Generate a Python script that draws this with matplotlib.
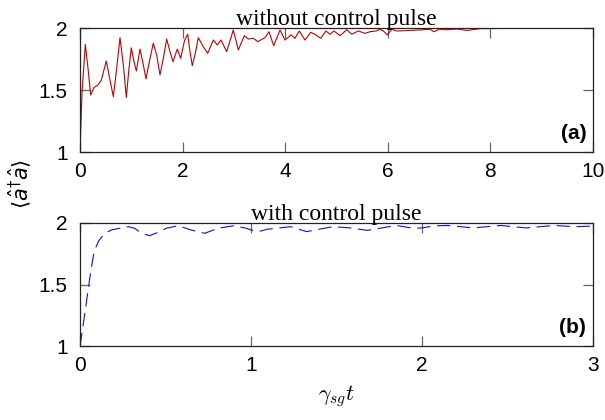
import matplotlib.pyplot as plt

# (a) without control pulse
t_a = [0, 0.04, 0.104, 0.156, 0.208, 0.273, 0.351, 0.416, 0.513, 0.578, 0.65, 0.715,
       0.78, 0.845, 0.903, 0.949, 1.0, 1.053, 1.098, 1.17, 1.222, 1.287, 1.351, 1.429,
       1.495, 1.559, 1.624, 1.69, 1.754, 1.813, 1.897, 1.962, 2.04, 2.10, 2.144, 2.189,
       2.255, 2.306, 2.404, 2.489, 2.599, 2.677, 2.749, 2.859, 2.988, 3.086, 3.203,
       3.281, 3.378, 3.464, 3.606, 3.684, 3.776, 3.899, 3.996, 4.113, 4.19, 4.275,
       4.386, 4.497, 4.581, 4.692, 4.795, 4.873, 4.951, 5.068, 5.199, 5.296, 5.425,
       5.556, 5.653, 5.77, 5.848, 5.913, 5.99, 6.076, 6.173, 6.433, 6.69, 6.82, 6.90,
       7.004, 7.15, 7.35, 7.54, 7.80, 8.1, 8.5, 9.0, 9.5, 10.0]
n_a = [1.0, 1.486, 1.868, 1.675, 1.46, 1.52, 1.54, 1.58, 1.734, 1.594, 1.446, 1.675,
       1.922, 1.70, 1.44, 1.65, 1.84, 1.728, 1.653, 1.83, 1.728, 1.589, 1.728, 1.877,
       1.782, 1.621, 1.755, 1.911, 1.809, 1.728, 1.83, 1.755, 1.903, 1.949, 1.809, 1.696,
       1.809, 1.922, 1.849, 1.796, 1.903, 1.863, 1.903, 1.809, 1.984, 1.823, 1.938,
       1.911, 1.917, 1.89, 1.922, 1.97, 1.857, 1.984, 1.903, 1.944, 1.917, 1.976,
       1.903, 1.965, 1.949, 1.917, 1.976, 1.949, 1.976, 1.938, 1.986, 1.949, 1.976,
       1.957, 1.97, 1.976, 1.989, 1.976, 1.944, 1.989, 1.976, 1.98, 1.986, 1.99, 1.97,
       1.99, 1.986, 1.992, 1.98, 1.995, 1.996, 1.998, 1.999, 2.0, 2.0]

# (b) with control pulse
t_b = [0, 0.027, 0.057, 0.082, 0.109, 0.144, 0.183, 0.232, 0.281, 0.32, 0.359, 0.407,
       0.456, 0.505, 0.573, 0.651, 0.729, 0.807, 0.90, 0.973, 1.002, 1.041, 1.095,
       1.23, 1.325, 1.40, 1.48, 1.58, 1.68, 1.85, 1.95, 2.0, 2.07, 2.15, 2.30, 2.46,
       2.61, 2.77, 2.90, 3.0]
n_b = [1.0, 1.252, 1.55, 1.767, 1.854, 1.916, 1.943, 1.957, 1.97, 1.957, 1.916, 1.897,
       1.924, 1.957, 1.978, 1.943, 1.916, 1.957, 1.978, 1.957, 1.943, 1.929, 1.949,
       1.97, 1.93, 1.95, 1.97, 1.96, 1.94, 1.98, 1.957, 1.96, 1.976, 1.98, 1.96, 1.98,
       1.96, 1.98, 1.97, 1.975]

plt.rcParams['font.family'] = ['Liberation Sans', 'DejaVu Sans']

fig = plt.figure(figsize=(6.05, 4.2), dpi=100)
ax1 = fig.add_axes([80/605, 1 - 152/420, 513/605, 124/420])
ax2 = fig.add_axes([80/605, 1 - 346/420, 513/605, 123/420])

ax1.plot(t_a, n_a, color='#c00000', lw=0.8)
ax2.plot(t_b, n_b, color='#1010cc', lw=0.8, dashes=(12, 6))

ax1.set_xlim(0, 10)
ax1.set_xticks([0, 2, 4, 6, 8, 10])
ax2.set_xlim(0, 3)
ax2.set_xticks([0, 1, 2, 3])

for ax, title, lab in [(ax1, 'without control pulse', '(a)'), (ax2, 'with control pulse', '(b)')]:
    ax.set_ylim(1, 2)
    ax.set_yticks([1, 1.5, 2])
    ax.set_yticklabels(['1', '1.5', '2'])
    ax.tick_params(direction='in', length=7, width=0.9, color='#666666', labelsize=15,
                   top=True, right=True)
    ax.tick_params(axis='x', pad=7)
    ax.tick_params(axis='y', pad=9)
    for s in ax.spines.values():
        s.set_linewidth(0.9)
        s.set_color('#222222')
    ax.set_title(title, family='Liberation Serif', fontsize=17, pad=2)
    ax.text(0.987, 0.07, lab, transform=ax.transAxes, ha='right', va='bottom',
            fontsize=15, fontweight='bold')

fig.text(20/605, 1 - 184/420, r'$\langle\hat{a}^{\dagger}\hat{a}\rangle$', rotation=90,
         ha='center', va='center', fontsize=15, math_fontfamily='dejavusans')
ax2.set_xlabel(r'$\gamma_{sg}t$', fontsize=16, labelpad=6, math_fontfamily='cm')

plt.savefig('out.png', dpi=100)
